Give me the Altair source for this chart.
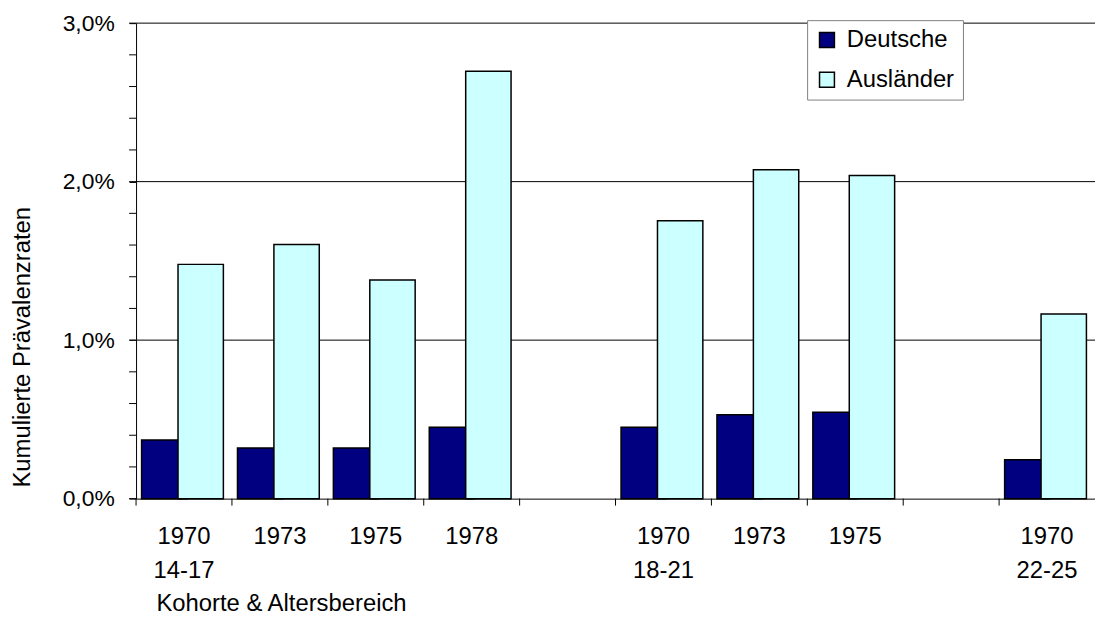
import json
import altair as alt
import pandas as pd

# ---- data ----
slot_keys = ["0", "1", "2", "3", "4", "5", "6", "7", "8", "9"]
slot_labels = ["1970|14-17", "1973", "1975", "1978", "", "1970|18-21", "1973", "1975", "", "1970|22-25"]
bar_slots = ["0", "1", "2", "3", "5", "6", "7", "9"]
deutsche = [0.37, 0.32, 0.32, 0.45, 0.45, 0.53, 0.545, 0.245]
auslaender = [1.478, 1.603, 1.38, 2.697, 1.753, 2.075, 2.039, 1.165]
series = ["Deutsche", "Ausländer"]
colors = ["#000080", "#CCFFFF"]
y_ticks = [0.0, 0.2, 0.4, 0.6, 0.8, 1.0, 1.2, 1.4, 1.6, 1.8, 2.0, 2.2, 2.4, 2.6, 2.8, 3.0]
y_major = [0.0, 1.0, 2.0, 3.0]
y_grid = [1.0, 2.0, 3.0]

rows = []
for s, d, a in zip(bar_slots, deutsche, auslaender):
    rows.append({"slot": s, "series": "Deutsche", "value": d})
    rows.append({"slot": s, "series": "Ausländer", "value": a})
df = pd.DataFrame(rows)
df_slots = pd.DataFrame({"slot": slot_keys})
df_yticks = pd.DataFrame({"value": y_ticks})
df_grid = pd.DataFrame({"value": y_grid})

FONT = "Liberation Sans"
x_scale = alt.Scale(domain=slot_keys, paddingInner=0, paddingOuter=0)
y_scale = alt.Scale(domain=[0, 3], nice=False, zero=True)
label_expr = "split(" + json.dumps(slot_labels) + "[toNumber(datum.value)], '|')"

x_axis = alt.Axis(
    title="Kohorte & Altersbereich",
    labelExpr=label_expr,
    ticks=False,
    labelAngle=0,
    labelPadding=26,
    labelLineHeight=34,
    labelFontSize=24,
    labelFont=FONT,
    labelColor="black",
    labelOverlap=False,
    domainColor="black",
    domainWidth=1,
    grid=False,
    titleFont=FONT,
    titleFontSize=24,
    titleFontWeight="normal",
    titleColor="black",
    titleAlign="left",
    titleBaseline="middle",
    titleX=20,
    titleY=106,
)

y_axis = alt.Axis(
    title="Kumulierte Prävalenzraten",
    values=y_major,
    labelExpr="replace(format(datum.value, '.1f'), '.', ',') + '%'",
    tickSize=7,
    tickColor="black",
    domainColor="black",
    labelFontSize=23,
    labelFont=FONT,
    labelColor="black",
    labelPadding=15,
    grid=False,
    titleFont=FONT,
    titleFontSize=24,
    titleFontWeight="normal",
    titleColor="black",
    titleAngle=270,
    titleAlign="center",
    titleBaseline="middle",
    titleX=-114,
    titleY=326,
)

grid = alt.Chart(df_grid).mark_rule(color="black", strokeWidth=1).encode(
    y=alt.Y("value:Q", scale=y_scale, axis=y_axis),
)

bars = alt.Chart(df).mark_bar(stroke="black", strokeWidth=1.5, width={"band": 1.245}).encode(
    x=alt.X("slot:N", scale=x_scale, axis=x_axis),
    xOffset=alt.XOffset(
        "series:N",
        scale=alt.Scale(domain=series, paddingInner=0, paddingOuter=0.316, align=0.75),
    ),
    y=alt.Y("value:Q", scale=y_scale, axis=y_axis),
    color=alt.Color(
        "series:N",
        scale=alt.Scale(domain=series, range=colors),
        legend=alt.Legend(
            title=None,
            orient="none",
            legendX=676,
            legendY=-3,
            symbolType="square",
            symbolSize=225,
            symbolStrokeColor="black",
            symbolStrokeWidth=1.5,
            symbolOpacity=1,
            labelFontSize=24,
            labelFont=FONT,
            labelColor="black",
            labelOffset=8,
            rowPadding=16,
            padding=8,
            fillColor="white",
            strokeColor="#808080",
        ),
    ),
)

x_ticks = alt.Chart(df_slots).mark_rule(color="black", strokeWidth=1).encode(
    x=alt.X("slot:N", bandPosition=0, scale=x_scale, axis=x_axis),
    y=alt.value(479),
    y2=alt.value(486),
)

y_minor = alt.Chart(df_yticks).mark_rule(color="black", strokeWidth=1).encode(
    y=alt.Y("value:Q", scale=y_scale, axis=y_axis),
    x=alt.value(-7),
    x2=alt.value(0),
)

chart = alt.layer(grid, bars, x_ticks, y_minor).properties(
    width=966,
    height=479,
    autosize=alt.AutoSizeParams(type="none"),
    padding={"left": 129, "top": 13, "right": 0, "bottom": 119},
    background="white",
).configure_view(stroke=None)

chart.save("out.html", embed_options={"renderer": "svg", "actions": False})
